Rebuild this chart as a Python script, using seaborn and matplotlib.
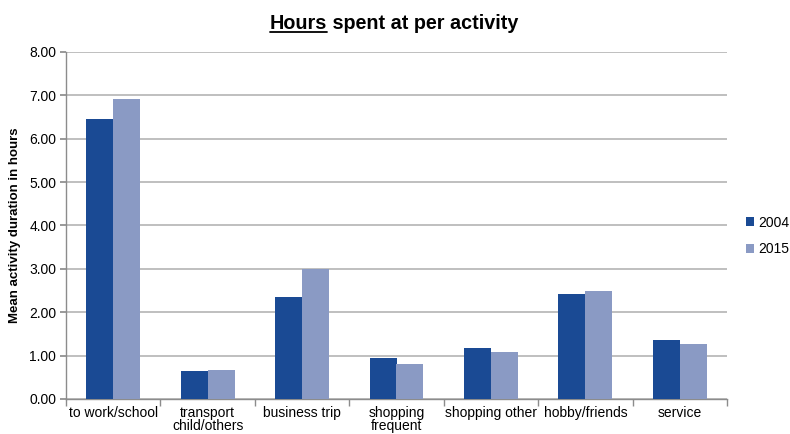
import matplotlib
matplotlib.use("Agg")
import matplotlib.pyplot as plt
import seaborn as sns
import pandas as pd
import numpy as np

activities = ["to work/school", "transport\nchild/others", "business trip",
              "shopping\nfrequent", "shopping other", "hobby/friends", "service"]
hours_2004 = [6.46, 0.65, 2.35, 0.95, 1.18, 2.42, 1.37]
hours_2015 = [6.91, 0.67, 3.00, 0.80, 1.08, 2.48, 1.26]
years = ["2004", "2015"]
y_ticks = [0, 1, 2, 3, 4, 5, 6, 7, 8]

df = pd.DataFrame({
    "activity": activities * 2,
    "hours": hours_2004 + hours_2015,
    "year": [years[0]] * len(activities) + [years[1]] * len(activities),
})

sns.set_theme(style="white")
plt.rcParams["font.family"] = ["Liberation Sans", "DejaVu Sans"]
plt.rcParams["text.color"] = "black"
plt.rcParams["xtick.color"] = "black"
plt.rcParams["ytick.color"] = "black"
plt.rcParams["axes.labelcolor"] = "black"

fig = plt.figure(figsize=(7.9, 4.34), dpi=100)
ax = fig.add_axes([66 / 790, 1 - 399 / 434, (727 - 66) / 790, (399 - 52) / 434])

palette = {"2004": "#1a4a94", "2015": "#8a9ac4"}
sns.barplot(data=df, x="activity", y="hours", hue="year", palette=palette,
            width=0.57, saturation=1, ax=ax, legend=True, zorder=3,
            linewidth=0, edgecolor="none")

ax.set_ylim(0, 8)
ax.set_xlim(-0.5, len(activities) - 0.5)
ax.set_yticks(y_ticks)
ax.set_yticklabels([f"{v:.2f}" for v in y_ticks], fontsize=10)
ax.yaxis.grid(True, color="#b4b4b4", linewidth=1.2, zorder=0)
ax.set_axisbelow(True)

for s in ["top", "right"]:
    ax.spines[s].set_visible(False)
for s in ["left", "bottom"]:
    ax.spines[s].set_color("#8c8c8c")
    ax.spines[s].set_linewidth(1)

ax.tick_params(axis="y", which="major", length=4, color="#8c8c8c", labelcolor="black",
               pad=3, left=True)
ax.tick_params(axis="x", which="major", length=0, pad=5, labelsize=10, labelcolor="black")
ax.set_xticks(np.arange(-0.5, len(activities), 1), minor=True)
ax.tick_params(axis="x", which="minor", length=5, color="#8c8c8c", bottom=True)
for lbl in ax.get_xticklabels():
    lbl.set_linespacing(0.92)

ax.set_xlabel("")
ax.set_ylabel("Mean activity duration in hours", fontsize=9.5, fontweight="bold",
              labelpad=6, color="black")

leg = ax.legend(loc="center left", bbox_to_anchor=(1.01, 0.47), frameon=False,
                fontsize=10, handlelength=0.6, handleheight=0.6, handletextpad=0.3,
                labelspacing=0.9)
for t in leg.get_texts():
    t.set_color("black")

# Title with the first word underlined
fig.canvas.draw()
renderer = fig.canvas.get_renderer()
tsize = 14.2
t1 = fig.text(0, 0, "Hours", fontsize=tsize, fontweight="bold", color="black")
t2 = fig.text(0, 0, " spent at per activity", fontsize=tsize, fontweight="bold", color="black")
w1 = t1.get_window_extent(renderer).width
w2 = t2.get_window_extent(renderer).width
x0 = (394 - (w1 + w2) / 2) / 790
ty = 1 - 29 / 434
t1.set_position((x0, ty))
t2.set_position((x0 + w1 / 790, ty))
fig.add_artist(plt.Line2D([x0, x0 + w1 / 790], [ty - 3 / 434, ty - 3 / 434],
                          color="black", linewidth=1.3))

fig.savefig("out.png", dpi=100)
